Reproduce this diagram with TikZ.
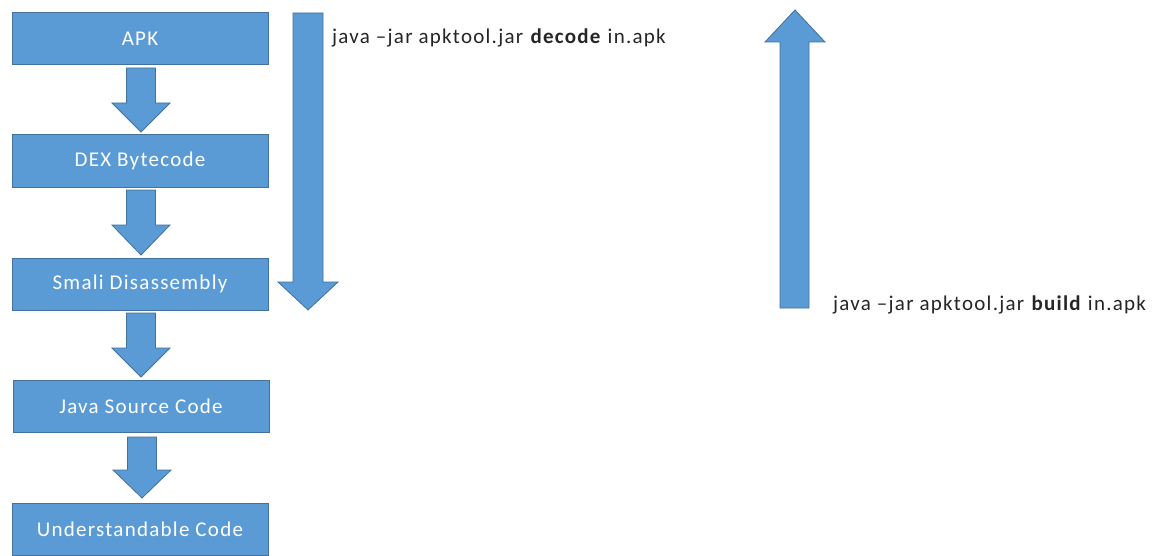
\documentclass[tikz,border=0pt]{standalone}
\usepackage{fontspec}
\setmainfont{Carlito}[LetterSpace=6]
\definecolor{boxfill}{HTML}{5B9BD5}
\definecolor{boxline}{HTML}{41719C}
\begin{document}
\begin{tikzpicture}[x=1pt,y=-1pt,
  stage/.style={draw=boxline,fill=boxfill,line width=1pt,minimum width=256pt,minimum height=52pt,inner sep=0pt,text=white,font=\fontsize{21}{21}\selectfont},
  blockarrow/.style={draw=boxline,fill=boxfill,line width=0.8pt,line join=miter},
  cmd/.style={anchor=west,inner sep=0pt,text=black!85,font=\fontsize{21}{21}\selectfont}]
\useasboundingbox (0,0) rectangle (1155,556);
\fill[white] (0,0) rectangle (1155,556);
\node[stage] (apk) at (140,39) {APK};
\node[stage] (dex) at (140,161) {DEX Bytecode};
\node[stage] (smali) at (140,284) {Smali Disassembly};
\node[stage] (java) at (141,406) {Java Source Code};
\node[stage] (under) at (140,529) {Understandable Code};
% small block arrows between stages
\foreach \t/\b/\hb/\tip/\cx in {68/103/103/132/141, 190/225/225/255/141, 313/348/348/377/141, 437/470/470/498/142}{
  \draw[blockarrow] (\cx-14.5,\t) -- (\cx+14.5,\t) -- (\cx+14.5,\hb) -- (\cx+29,\hb) -- (\cx,\tip) -- (\cx-29,\hb) -- (\cx-14.5,\hb) -- cycle;
}
% big decode arrow
\draw[blockarrow] (293,13) -- (323,13) -- (323,282) -- (338,282) -- (308,310) -- (278,282) -- (293,282) -- cycle;
\node[cmd] (dec) at (332,38) {java –jar apktool.jar \textbf{decode} in.apk};
% big build arrow
\draw[blockarrow] (780,308) -- (809,308) -- (809,42) -- (825,42) -- (795,10) -- (765,42) -- (780,42) -- cycle;
\node[cmd] (bld) at (833,305) {java –jar apktool.jar \textbf{build} in.apk};
\end{tikzpicture}
\end{document}
